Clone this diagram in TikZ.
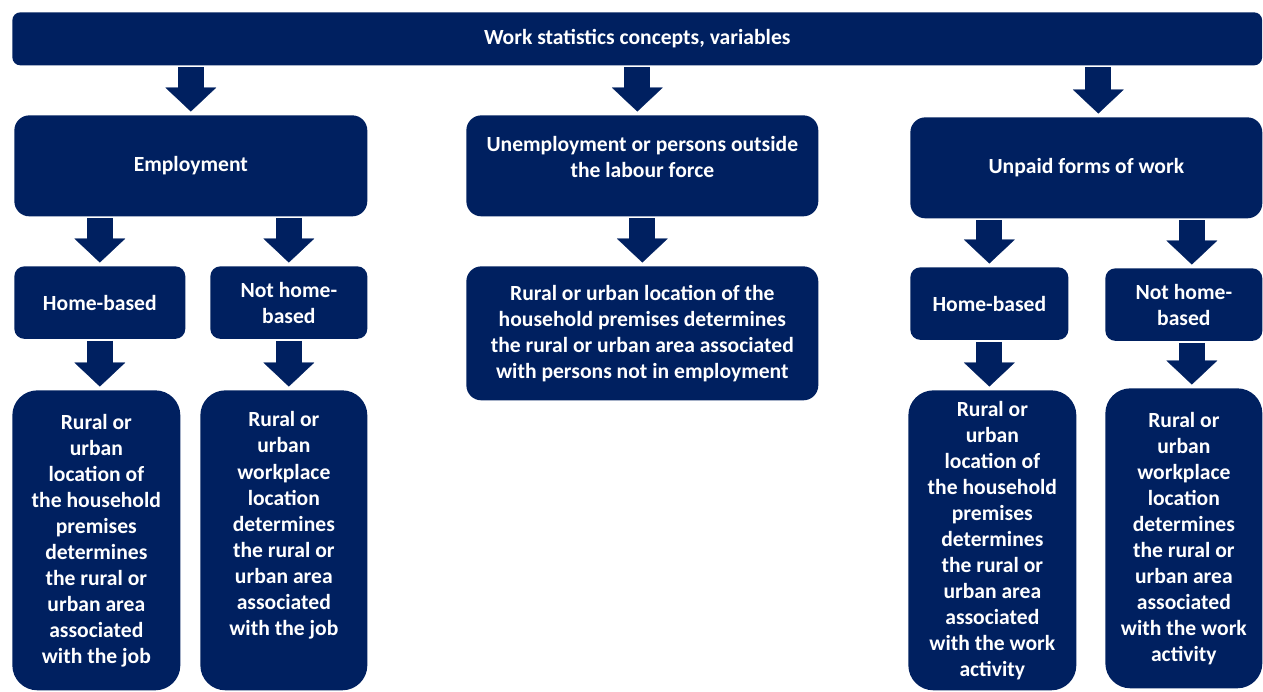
\documentclass[tikz,border=0pt]{standalone}
\usepackage{fontspec}
\setmainfont{Carlito}
\usepackage{tikz}
\usetikzlibrary{%
	arrows.meta,%
	positioning,% wg. " of "
	scopes%
}
\definecolor{ilonavy}{HTML}{002060}

\begin{document}
\begin{tikzpicture}[
x=0.02cm,y=-0.02cm,
line join=round,
every node/.style={font=\bfseries\fontsize{12.3}{14.8}\selectfont,text=white},
box/.style={rectangle,fill=ilonavy,anchor=north west,align=center,inner sep=2pt},
bar/.style={box,rounded corners=1.6mm},
head/.style={box,rounded corners=3mm,minimum width=7.04cm,minimum height=2.02cm},
split/.style={box,rounded corners=2mm,minimum height=1.45cm},
tall/.style={box,rounded corners=5mm,minimum height=6cm},
blk/.style={draw=ilonavy,line width=14.7pt,
-{Triangle[width=28.9pt,length=13.6pt,line width=0.1pt]},
shorten <=1pt,shorten >=2pt}
]
\useasboundingbox (0,0) rectangle (1263,692);

\node [bar,minimum width=25cm,minimum height=1.06cm] (top) at (12,12)
  {Work statistics concepts, variables};

\node [head,minimum width=7.06cm] (emp)    at (14,115)  {Employment};
\node [head]                      (unemp)  at (466,115) {Unemployment or persons outside\\the labour force\\[-5pt]\mbox{}};
\node [head]                      (unpaid) at (910,117) {Unpaid forms of work};

\node [split,minimum width=3.42cm] (hb1)  at (14,266)   {Home-based};
\node [split,minimum width=3.14cm] (nhb1) at (210,266)  {Not home-\\based};
\node [head,minimum height=2.68cm] (rural) at (466,266)
  {Rural or urban location of the\\household premises determines\\the rural or urban area associated\\with persons not in employment};
\node [split,minimum width=3.16cm] (hb2)  at (910,267)  {Home-based};
\node [split,minimum width=3.14cm] (nhb2) at (1105,268) {Not home-\\based};

\node [tall,minimum width=3.36cm] (loc1) at (12,390)
  {Rural or\\urban\\location of\\the household\\premises\\determines\\the rural or\\urban area\\associated\\with the job};
\node [tall,minimum width=3.34cm] (loc2) at (200,390)
  {Rural or\\urban\\workplace\\location\\determines\\the rural or\\urban area\\associated\\with the job\\\strut};
\node [tall,minimum width=3.36cm] (loc3) at (908,390)
  {Rural or\\urban\\location of\\the household\\premises\\determines\\the rural or\\urban area\\associated\\with the work\\activity};
\node [tall,minimum width=3.14cm] (loc4) at (1105,388)
  {Rural or\\urban\\workplace\\location\\determines\\the rural or\\urban area\\associated\\with the work\\activity};

% arrow ends that sit off the box centres
\coordinate (in unemp)  at ([xshift=-0.1cm]unemp.north);
\coordinate (in unpaid) at ([xshift=0.24cm]unpaid.north);
\coordinate (in nhb2)   at ([xshift=0.16cm]nhb2.north);
\coordinate (in loc4)   at ([xshift=0.16cm]loc4.north);

\begin{scope}[every path/.style=blk]
\draw (top.south -| emp.north)       -- (emp.north);
\draw (top.south -| in unemp)        -- (in unemp);
\draw (top.south -| in unpaid)       -- (in unpaid);
\draw (emp.south -| hb1.north)       -- (hb1.north);
\draw (emp.south -| nhb1.north)      -- (nhb1.north);
\draw (unemp.south -| rural.north)   -- (rural.north);
\draw (unpaid.south -| hb2.north)    -- (hb2.north);
\draw (unpaid.south -| in nhb2)      -- (in nhb2);
\draw (hb1.south)                    -- (hb1.south |- loc1.north);
\draw (nhb1.south)                   -- (nhb1.south |- loc2.north);
\draw (hb2.south)                    -- (hb2.south |- loc3.north);
\draw (nhb2.south -| in loc4)        -- (in loc4);
\end{scope}
\end{tikzpicture}
\end{document}
